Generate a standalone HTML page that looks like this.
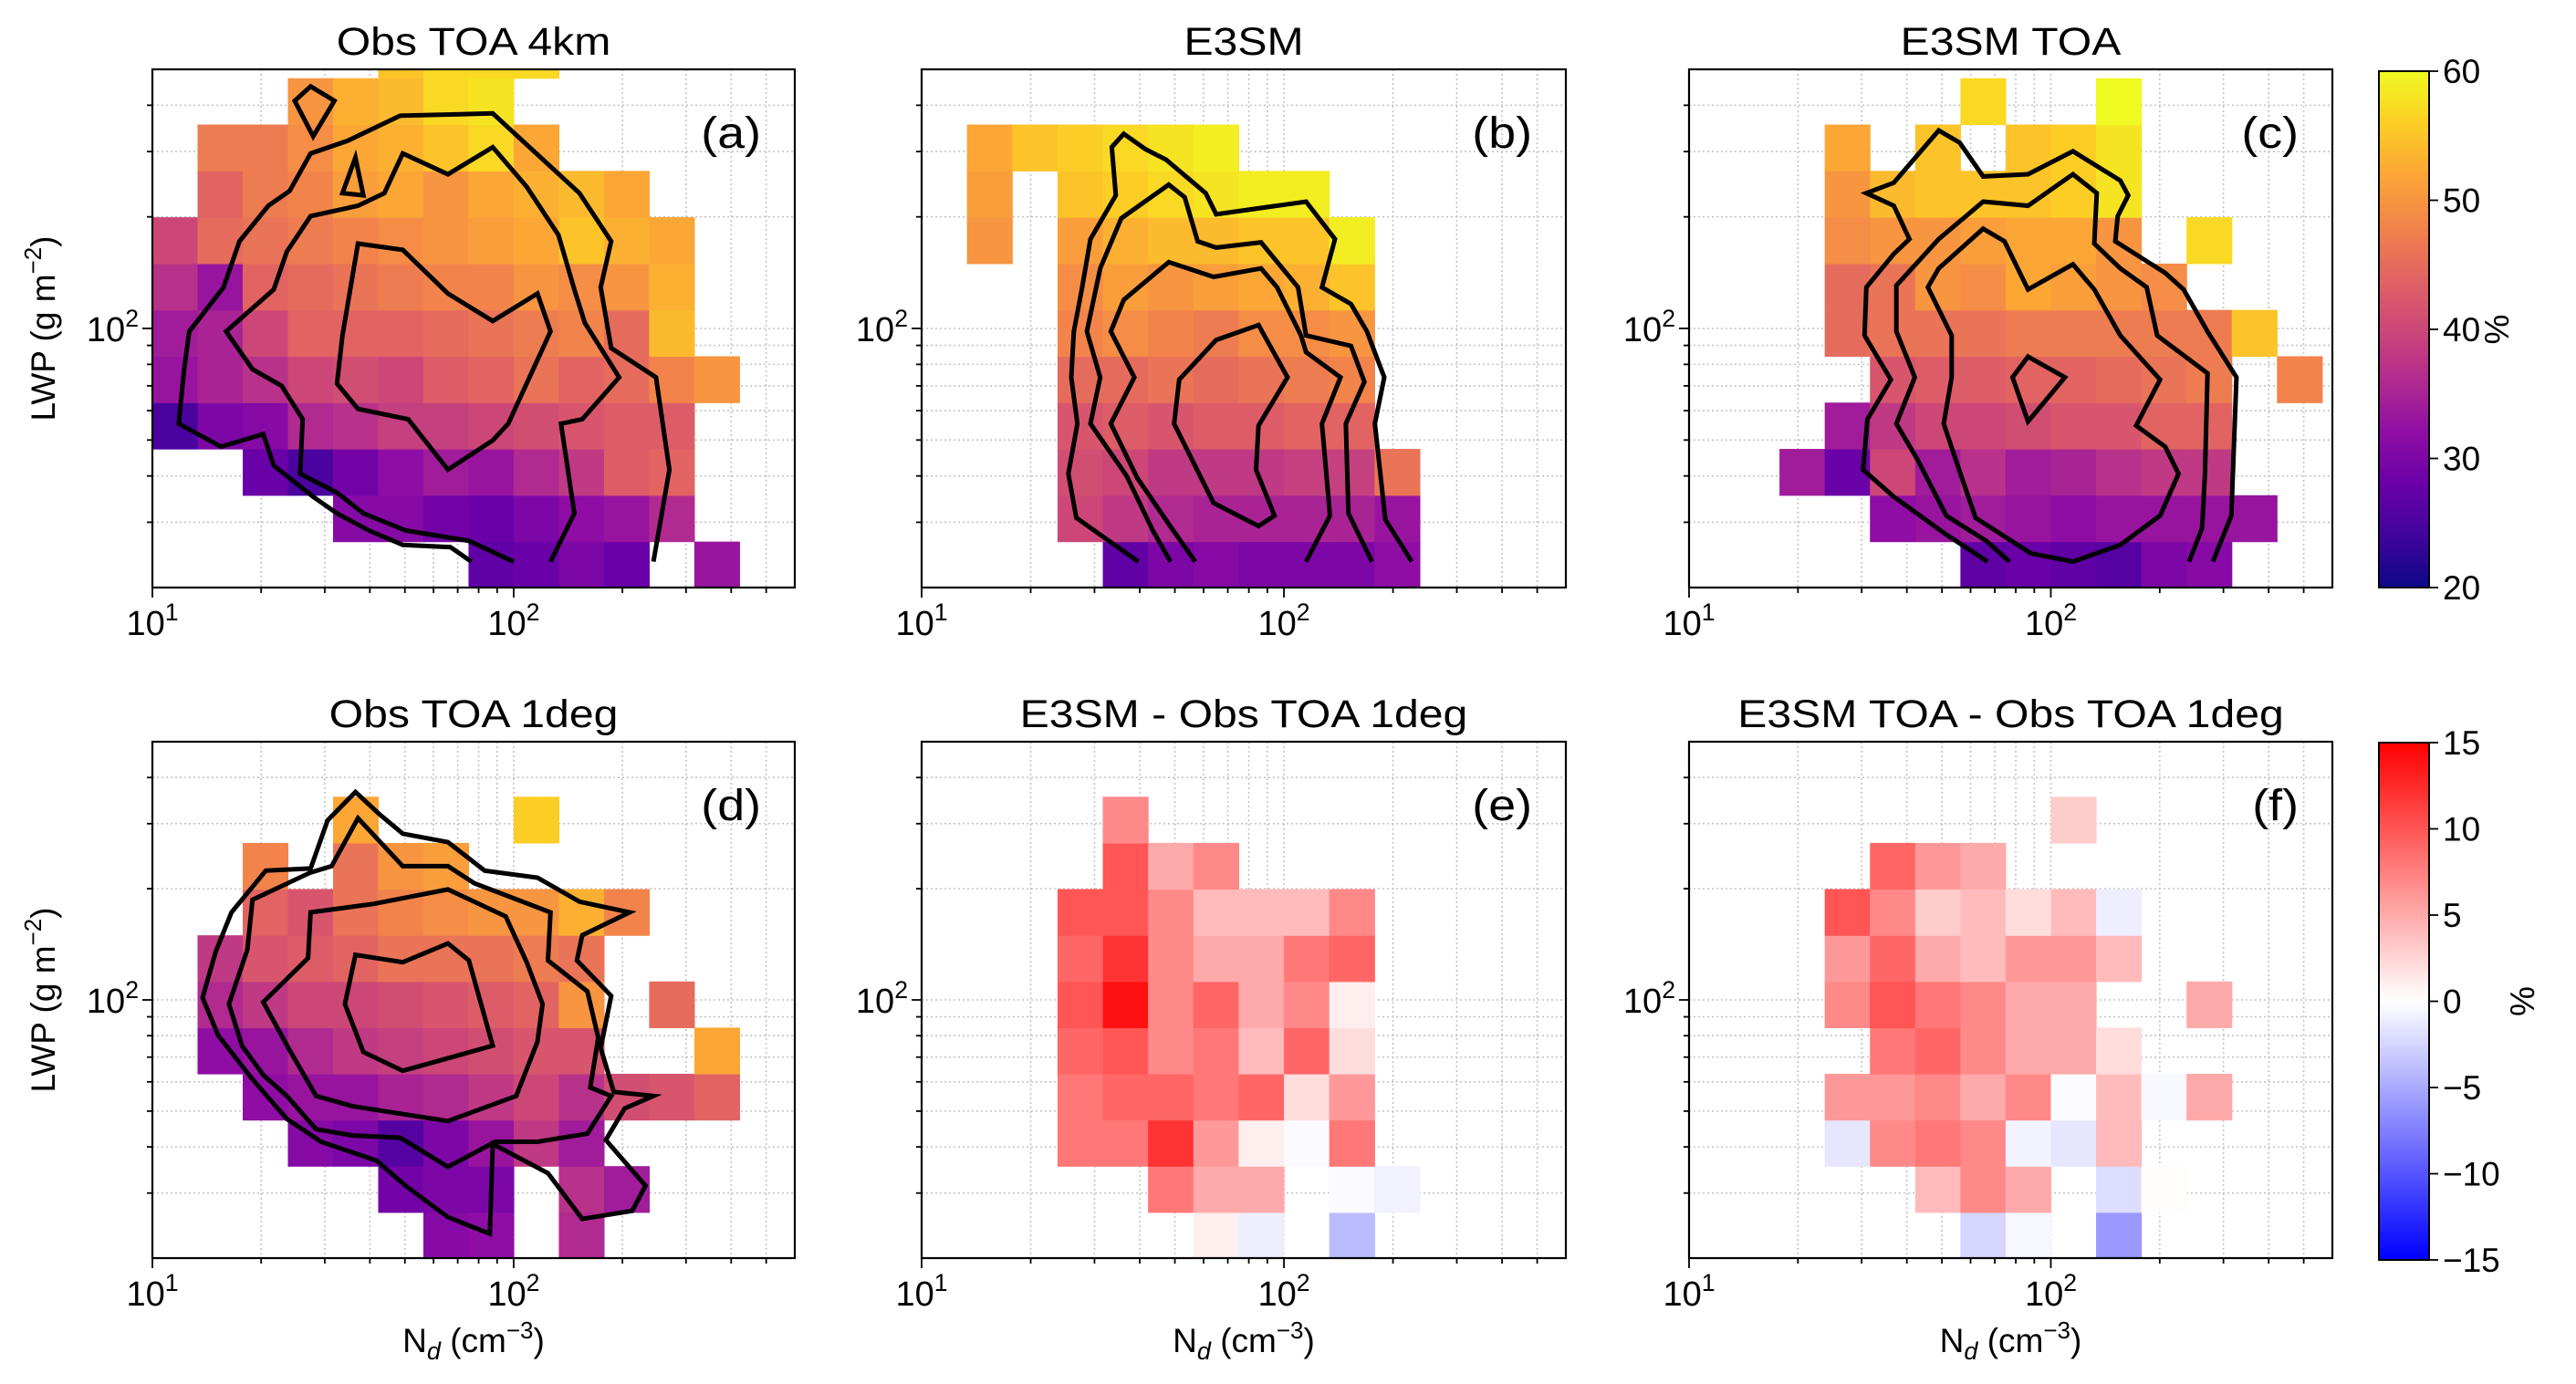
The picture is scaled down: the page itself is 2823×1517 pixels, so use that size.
<!DOCTYPE html>
<html><head><meta charset="utf-8"><style>
html,body{margin:0;padding:0;background:#fff;}
svg{display:block;}
</style></head><body>
<svg id="fig" xmlns="http://www.w3.org/2000/svg" width="2823" height="1517" viewBox="0 0 2823 1517">
<defs>
<linearGradient id="plasmaGrad" x1="0" y1="1" x2="0" y2="0">
<stop offset="0" stop-color="#0d0887"/><stop offset="0.1" stop-color="#41049d"/><stop offset="0.2" stop-color="#6a00a8"/><stop offset="0.3" stop-color="#8f0da4"/><stop offset="0.4" stop-color="#b12a90"/><stop offset="0.5" stop-color="#cc4778"/><stop offset="0.6" stop-color="#e16462"/><stop offset="0.7" stop-color="#f2844b"/><stop offset="0.8" stop-color="#fca636"/><stop offset="0.9" stop-color="#fcce25"/><stop offset="1" stop-color="#f0f921"/>
</linearGradient>
<linearGradient id="bwrGrad" x1="0" y1="1" x2="0" y2="0">
<stop offset="0" stop-color="#0000ff"/><stop offset="0.5" stop-color="#ffffff"/><stop offset="1" stop-color="#ff0000"/>
</linearGradient>
</defs>
</svg>
<script>
const N = null;
// bin edges (log10 units)
const ndEdgeLog0 = 1, ndBinLog = 0.125, lwpEdgeLog0 = 1.3, lwpBinLog = 0.125;
const ndMin = 10, ndMax = 600, lwpMin = 20, lwpMax = 500;
const xMinorTicks = [20,30,40,50,60,70,80,90,200,300,400,500];
const xMajorTicks = [10,100];
const xMajorExp = ['1','2'];
const yMinorTicks = [30,40,50,60,70,80,90,200,300,400];
const yMajorTicks = [100];
const yMajorExp = ['2'];
const cbTopTicks = [20,30,40,50,60];
const cbTopLabels = ['20','30','40','50','60'];
const cbBotTicks = [-15,-10,-5,0,5,10,15];
const cbBotLabels = ['\u221215','\u221210','\u22125','0','5','10','15'];

// rows bottom->top: [startColumn, values]
const cellsObs4km = [
 [7,[27,28,30,28,N,33]],
 [4,[31,31,29,28,30,32,33,36]],
 [2,[28,25,29,32,34,33,36,38,43,44]],
 [0,[25,30,31,36,37,39,39,40,41,42,43,43]],
 [0,[33,35,37,40,41,40,43,44,46,44,45,48,50]],
 [0,[34,35,40,44,44,44,45,46,47,48,45,54]],
 [0,[37,33,44,45,46,47,48,48,50,49,50,53]],
 [0,[40,45,46,47,48,49,50,51,52,55,53,52]],
 [1,[44,47,48,51,52,50,52,53,54,52]],
 [1,[47,47,49,52,53,55,57,52]],
 [3,[50,53,54,57,58]],
 [5,[55,57,57,57]]
];
const cellsE3sm = [
 [4,[27,30,31,30,30,30,32]],
 [3,[40,38,36,35,35,35,35,33]],
 [3,[41,40,38,38,38,39,39,46]],
 [3,[42,43,42,43,43,44,44]],
 [3,[45,45,46,45,46,47,48]],
 [3,[48,49,48,47,49,49,50]],
 [3,[49,51,50,51,52,53,55]],
 [1,[50,N,51,53,54,54,55,55,59]],
 [1,[51,N,55,56,57,58,59,59]],
 [1,[52,55,56,57,58,59]]
];
const cellsE3smToa = [
 [6,[27,28,27,26,30,31]],
 [4,[32,33,34,33,32,33,33,33,33]],
 [2,[34,28,40,34,37,34,35,37,38,38]],
 [3,[34,38,40,40,41,42,42,44,44]],
 [4,[42,43,43,44,44,45,46,47,N,48]],
 [3,[45,46,46,46,47,47,47,47,47,55]],
 [3,[45,46,50,49,52,51,50,49]],
 [3,[49,50,50,51,52,52,50,N,57]],
 [3,[50,54,55,55,55,56,58]],
 [3,[52,N,55,N,55,56,58]],
 [6,[57,N,N,60]]
];
const cellsObs1deg = [
 [6,[31,32,N,36]],
 [5,[29,30,30,N,37,34]],
 [3,[31,30,26,30,33,38,34]],
 [2,[32,33,33,35,36,38,40,37,41,42,44]],
 [1,[32,33,36,38,39,40,41,42,42,N,N,52]],
 [1,[36,38,40,40,41,42,43,44,50,N,45]],
 [1,[38,42,43,44,46,46,46,47,46]],
 [2,[44,42,46,48,49,50,50,53,48]],
 [2,[48,N,46,50,51]],
 [4,[52,N,N,N,56]]
];
const cellsDiffE3sm = [
 [6,[1,-1,N,-4]],
 [5,[8,5,5,N,-0.3,-0.8]],
 [3,[8,8,12,6,1,-0.3,8]],
 [3,[8,9,9,8,9,2,6]],
 [3,[9,10,7,8,4,9,2]],
 [3,[10,14,7,9,5,7,1]],
 [3,[9,12,7,5,5,8,9]],
 [3,[10,10,7,4,4,4,7]],
 [4,[10,5,7]],
 [4,[7]]
];
const cellsDiffE3smToa = [
 [6,[-2.5,-0.5,N,-6]],
 [5,[4,7,5,N,-2,0.2]],
 [3,[-1.5,7,8,7,-0.7,-1.5,4]],
 [3,[6,6,7,5,7,-0.2,4,-0.5,5]],
 [4,[8,9,7,5,5,2]],
 [3,[7,10,8,7,5,5,N,N,5]],
 [3,[6,9,5,4,6,6,4]],
 [3,[10,7,3,4,2,4,-1]],
 [4,[9,6,5]],
 [8,[3]]
];

// contour vertices as [log10 Nd, log10 LWP]
const contoursObs4km = [
 {closed:false, pts:[[1.883,1.371],[1.825,1.410],[1.693,1.416],[1.599,1.455],[1.511,1.501],[1.445,1.546],[1.336,1.630],[1.307,1.715],[1.190,1.681],[1.073,1.743],[1.088,1.890],[1.102,1.992],[1.197,2.111],[1.241,2.235],[1.321,2.331],[1.380,2.371],[1.438,2.472],[1.540,2.506],[1.686,2.574],[1.942,2.580],[2.182,2.365],[2.270,2.235],[2.241,2.111],[2.270,1.947],[2.394,1.868],[2.431,1.619],[2.387,1.371]]},
 {closed:false, pts:[[2.0,1.371],[1.876,1.427],[1.701,1.455],[1.584,1.501],[1.511,1.557],[1.409,1.608],[1.416,1.755],[1.358,1.845],[1.277,1.890],[1.204,1.992],[1.336,2.105],[1.372,2.207],[1.438,2.303],[1.569,2.331],[1.642,2.365],[1.693,2.472],[1.818,2.416],[1.942,2.489],[2.036,2.382],[2.124,2.252],[2.168,2.105],[2.197,2.015],[2.292,1.868],[2.190,1.755],[2.131,1.743],[2.168,1.501],[2.102,1.371]]},
 {closed:true, pts:[[1.569,2.229],[1.693,2.212],[1.818,2.094],[1.942,2.020],[2.066,2.094],[2.102,1.992],[1.985,1.743],[1.942,1.698],[1.818,1.619],[1.708,1.755],[1.569,1.783],[1.511,1.851],[1.526,1.981]]},
 {closed:true, pts:[[1.394,2.614],[1.438,2.653],[1.504,2.614],[1.445,2.518]]},
 {closed:true, pts:[[1.526,2.365],[1.562,2.461],[1.584,2.359]]}
];
const contoursE3sm = [
 {closed:false, pts:[[1.598,1.371],[1.427,1.489],[1.405,1.608],[1.430,1.743],[1.413,1.868],[1.420,1.992],[1.442,2.105],[1.466,2.241],[1.536,2.359],[1.525,2.489],[1.558,2.525],[1.617,2.484],[1.675,2.455],[1.784,2.365],[1.813,2.308],[2.061,2.342],[2.141,2.241],[2.105,2.111],[2.185,2.066],[2.229,1.992],[2.277,1.868],[2.251,1.743],[2.280,1.484],[2.353,1.371]]},
 {closed:false, pts:[[1.687,1.371],[1.638,1.455],[1.566,1.602],[1.466,1.743],[1.493,1.868],[1.456,1.992],[1.493,2.162],[1.551,2.297],[1.682,2.388],[1.726,2.354],[1.762,2.235],[1.813,2.218],[1.937,2.232],[2.039,2.111],[2.061,1.981],[2.185,1.953],[2.222,1.856],[2.171,1.743],[2.178,1.501],[2.243,1.371]]},
 {closed:false, pts:[[1.755,1.371],[1.690,1.461],[1.595,1.597],[1.522,1.743],[1.587,1.868],[1.522,1.992],[1.558,2.077],[1.682,2.179],[1.806,2.139],[1.937,2.162],[1.981,2.111],[2.047,1.981],[2.061,1.936],[2.156,1.868],[2.105,1.743],[2.127,1.495],[2.061,1.371]]},
 {closed:true, pts:[[1.813,1.969],[1.930,2.009],[2.010,1.868],[1.930,1.738],[1.923,1.619],[1.974,1.495],[1.930,1.467],[1.806,1.529],[1.697,1.743],[1.711,1.862]]}
];
const contoursE3smToa = [
 {closed:false, pts:[[1.825,1.371],[1.711,1.444],[1.566,1.546],[1.481,1.619],[1.493,1.755],[1.558,1.862],[1.485,1.981],[1.490,2.111],[1.566,2.201],[1.609,2.241],[1.566,2.331],[1.490,2.365],[1.566,2.393],[1.690,2.534],[1.748,2.501],[1.813,2.410],[1.937,2.416],[2.061,2.478],[2.192,2.399],[2.214,2.359],[2.185,2.303],[2.178,2.235],[2.251,2.190],[2.316,2.150],[2.367,2.105],[2.433,1.992],[2.513,1.868],[2.499,1.495],[2.448,1.371]]},
 {closed:false, pts:[[1.886,1.371],[1.821,1.427],[1.711,1.495],[1.631,1.647],[1.573,1.743],[1.624,1.868],[1.573,1.992],[1.573,2.116],[1.690,2.241],[1.813,2.342],[1.937,2.331],[2.061,2.416],[2.127,2.365],[2.120,2.229],[2.192,2.162],[2.265,2.111],[2.294,1.981],[2.433,1.879],[2.426,1.608],[2.418,1.461],[2.382,1.371]]},
 {closed:true, pts:[[2.061,1.371],[1.945,1.393],[1.792,1.489],[1.748,1.614],[1.704,1.743],[1.726,1.868],[1.726,1.981],[1.660,2.111],[1.690,2.162],[1.813,2.269],[1.872,2.235],[1.937,2.105],[2.061,2.173],[2.120,2.105],[2.192,1.981],[2.302,1.862],[2.236,1.738],[2.316,1.681],[2.353,1.608],[2.302,1.495],[2.192,1.416]]},
 {closed:true, pts:[[1.937,1.924],[2.039,1.868],[1.937,1.749],[1.894,1.868]]}
];
const contoursObs1deg = [
 {closed:true, pts:[[1.562,2.563],[1.628,2.503],[1.693,2.450],[1.818,2.427],[1.920,2.350],[2.066,2.331],[2.182,2.266],[2.321,2.237],[2.190,2.175],[2.175,2.107],[2.270,2.011],[2.241,1.870],[2.277,1.751],[2.387,1.740],[2.307,1.706],[2.255,1.621],[2.365,1.497],[2.328,1.429],[2.190,1.407],[2.095,1.531],[1.942,1.610],[1.934,1.367],[1.818,1.412],[1.701,1.497],[1.620,1.565],[1.467,1.616],[1.372,1.678],[1.277,1.785],[1.182,1.904],[1.139,2.006],[1.175,2.130],[1.219,2.237],[1.314,2.350],[1.438,2.356],[1.485,2.486]]},
 {closed:true, pts:[[1.569,2.492],[1.693,2.362],[1.818,2.362],[1.891,2.316],[2.102,2.237],[2.095,2.107],[2.204,2.023],[2.234,1.898],[2.212,1.763],[2.270,1.740],[2.204,1.638],[2.066,1.616],[1.949,1.616],[1.818,1.548],[1.686,1.627],[1.555,1.633],[1.453,1.650],[1.372,1.740],[1.307,1.797],[1.248,1.876],[1.212,1.989],[1.263,2.136],[1.277,2.271],[1.438,2.345],[1.496,2.362]]},
 {closed:true, pts:[[1.438,2.237],[1.613,2.260],[1.818,2.299],[1.978,2.226],[2.036,2.102],[2.080,1.989],[2.066,1.887],[2.007,1.740],[1.818,1.672],[1.555,1.712],[1.453,1.740],[1.380,1.864],[1.307,1.994],[1.431,2.113]]},
 {closed:true, pts:[[1.562,2.122],[1.693,2.102],[1.818,2.153],[1.876,2.107],[1.942,1.876],[1.693,1.808],[1.584,1.859],[1.533,1.989]]}
];

const svg = document.getElementById('fig');
const NS = 'http://www.w3.org/2000/svg';
function mk(tag, attrs, parent) {
  const e = document.createElementNS(NS, tag);
  for (const k in attrs) e.setAttribute(k, attrs[k]);
  (parent || svg).appendChild(e);
  return e;
}
const L = Math.log10;
function X(p, nd) { return p.x + (L(nd) - L(ndMin)) / (L(ndMax) - L(ndMin)) * p.w; }
function Y(p, lwp) { return p.y + p.h - (L(lwp) - L(lwpMin)) / (L(lwpMax) - L(lwpMin)) * p.h; }

const plasmaStops = [[13,8,135],[65,4,157],[106,0,168],[143,13,164],[177,42,144],[204,71,120],[225,100,98],[242,132,75],[252,166,54],[252,206,37],[240,249,33]];
function plasma(v) {
  let t = Math.max(0, Math.min(1, (v - 20) / 40)) * 10;
  const i = Math.min(9, Math.floor(t)), f = t - i;
  const a = plasmaStops[i], b = plasmaStops[i + 1];
  return 'rgb(' + [0,1,2].map(k => Math.round(a[k] + (b[k] - a[k]) * f)).join(',') + ')';
}
function bwr(v) {
  const t = Math.max(0, Math.min(1, (v + 15) / 30));
  if (t < 0.5) { const g = Math.round(255 * t * 2); return 'rgb(' + g + ',' + g + ',255)'; }
  const g = Math.round(255 * (1 - (t - 0.5) * 2)); return 'rgb(255,' + g + ',' + g + ')';
}

const FONT = '"Liberation Sans", "DejaVu Sans", sans-serif';
function txt(x, y, str, size, anchor, parent, sx) {
  const t = mk('text', {transform: 'translate(' + x + ',' + y + ') scale(' + (sx || 1) + ',1)', 'font-family': FONT, 'font-size': size, 'text-anchor': anchor || 'middle', fill: '#000'}, parent);
  t.textContent = str;
  return t;
}
function powLabel(x, y, base, sup, size, anchor, parent) {
  const t = mk('text', {x: x, y: y, 'font-family': FONT, 'font-size': size, 'text-anchor': anchor, fill: '#000'}, parent);
  const a = mk('tspan', {}, t); a.textContent = base;
  const b = mk('tspan', {dy: -size * 0.42, 'font-size': size * 0.7}, t); b.textContent = sup;
  return t;
}

const panels = [
  {id:'a', title:'Obs TOA 4km', x:167, y:76, w:704, h:568, cells:cellsObs4km, cmap:plasma, contours:contoursObs4km, ylab:true, xlab:false},
  {id:'b', title:'E3SM', x:1010, y:76, w:706, h:568, cells:cellsE3sm, cmap:plasma, contours:contoursE3sm, ylab:false, xlab:false},
  {id:'c', title:'E3SM TOA', x:1851, y:76, w:705, h:568, cells:cellsE3smToa, cmap:plasma, contours:contoursE3smToa, ylab:false, xlab:false},
  {id:'d', title:'Obs TOA 1deg', x:167, y:813, w:704, h:566, cells:cellsObs1deg, cmap:plasma, contours:contoursObs1deg, ylab:true, xlab:true},
  {id:'e', title:'E3SM - Obs TOA 1deg', x:1010, y:813, w:706, h:566, cells:cellsDiffE3sm, cmap:bwr, contours:[], ylab:false, xlab:true},
  {id:'f', title:'E3SM TOA - Obs TOA 1deg', x:1851, y:813, w:705, h:566, cells:cellsDiffE3smToa, cmap:bwr, contours:[], ylab:false, xlab:true}
];

panels.forEach(p => {
  const g = mk('g', {});
  
  
  const cp = mk('clipPath', {id: 'clip-' + p.id}, g);
  mk('rect', {x: p.x, y: p.y, width: p.w, height: p.h}, cp);

  const grid = mk('g', {stroke: '#c4c4c4', 'stroke-width': 1.6, 'stroke-dasharray': '2,3'}, g);
  
  
  xMinorTicks.concat(xMajorTicks).forEach(v => { const xx = X(p, v); mk('line', {x1: xx, x2: xx, y1: p.y, y2: p.y + p.h}, grid); });
  yMinorTicks.concat(yMajorTicks).forEach(v => { const yy = Y(p, v); mk('line', {x1: p.x, x2: p.x + p.w, y1: yy, y2: yy}, grid); });

  const cg = mk('g', {'clip-path': 'url(#clip-' + p.id + ')'}, g);
  
  
  p.cells.forEach((row, r) => {
    const start = row[0];
    row[1].forEach((v, j) => {
      if (v === null) return;
      const col = start + j;
      const x0 = X(p, Math.pow(10, ndEdgeLog0 + col * ndBinLog));
      const x1 = X(p, Math.pow(10, ndEdgeLog0 + (col + 1) * ndBinLog));
      const y0 = Y(p, Math.pow(10, lwpEdgeLog0 + (r + 1) * lwpBinLog));
      const y1 = Y(p, Math.pow(10, lwpEdgeLog0 + r * lwpBinLog));
      const c = mk('rect', {x: x0, y: y0, width: x1 - x0 + 0.6, height: y1 - y0 + 0.6, fill: p.cmap(v)}, cg);
      
      
    });
  });

  const kg = mk('g', {'clip-path': 'url(#clip-' + p.id + ')', fill: 'none', stroke: '#000', 'stroke-width': 5, 'stroke-linejoin': 'miter'}, g);
  
  
  p.contours.forEach((ct, k) => {
    const d = ct.pts.map((q, i) => (i ? 'L' : 'M') + X(p, Math.pow(10, q[0])).toFixed(1) + ',' + Y(p, Math.pow(10, q[1])).toFixed(1)).join(' ') + (ct.closed ? ' Z' : '');
    const path = mk('path', {d: d}, kg);
    
    
  });

  const fr = mk('rect', {x: p.x, y: p.y, width: p.w, height: p.h, fill: 'none', stroke: '#000', 'stroke-width': 2.2}, g);
  
  

  const tk = mk('g', {stroke: '#000', 'stroke-width': 1.8}, g);
  
  
  xMinorTicks.forEach(v => { const xx = X(p, v); mk('line', {x1: xx, x2: xx, y1: p.y + p.h, y2: p.y + p.h + 6}, tk); });
  xMajorTicks.forEach(v => { const xx = X(p, v); mk('line', {x1: xx, x2: xx, y1: p.y + p.h, y2: p.y + p.h + 11}, tk); });
  yMinorTicks.forEach(v => { const yy = Y(p, v); mk('line', {x1: p.x - 6, x2: p.x, y1: yy, y2: yy}, tk); });
  yMajorTicks.forEach(v => { const yy = Y(p, v); mk('line', {x1: p.x - 11, x2: p.x, y1: yy, y2: yy}, tk); });

  xMajorTicks.forEach((v, i) => {
    const t = powLabel(X(p, v), p.y + p.h + 52, '10', xMajorExp[i], 38, 'middle', g);
    
    
  });
  yMajorTicks.forEach((v, i) => {
    const t = powLabel(p.x - 15, Y(p, v) + 14, '10', yMajorExp[i], 38, 'end', g);
    
    
  });

  const ti = txt(p.x + p.w / 2, p.y - 16, p.title, 43, 'middle', g, 1.12);
  
  

  const pl = txt(p.x + p.w - 37, p.y + 86, '(' + p.id + ')', 48, 'end', g, 1.12);
  
  

  if (p.ylab) {
    const yl = mk('text', {transform: 'translate(60,' + (p.y + p.h / 2) + ') rotate(-90)', 'font-family': FONT, 'font-size': 37, 'text-anchor': 'middle', fill: '#000'}, g);
    const s1 = mk('tspan', {}, yl); s1.textContent = 'LWP (g m';
    const s2 = mk('tspan', {dy: -15, 'font-size': 26}, yl); s2.textContent = '\u22122';
    const s3 = mk('tspan', {dy: 15}, yl); s3.textContent = ')';
    
    
  }
  if (p.xlab) {
    const xl = mk('text', {x: p.x + p.w / 2, y: 1482, 'font-family': FONT, 'font-size': 37, 'text-anchor': 'middle', fill: '#000'}, g);
    const s1 = mk('tspan', {}, xl); s1.textContent = 'N';
    const s2 = mk('tspan', {dy: 8, 'font-size': 27, 'font-style': 'italic'}, xl); s2.textContent = 'd';
    const s3 = mk('tspan', {dy: -8}, xl); s3.textContent = ' (cm';
    const s4 = mk('tspan', {dy: -15, 'font-size': 26}, xl); s4.textContent = '\u22123';
    const s5 = mk('tspan', {dy: 15}, xl); s5.textContent = ')';
    
    
  }
});

const cbars = [
  {id:'top', x:2607, y:78, w:55, h:566, grad:'plasmaGrad', ticks:cbTopTicks, labels:cbTopLabels, vmin:20, vmax:60, pctX:2749},
  {id:'bottom', x:2607, y:814, w:55, h:567, grad:'bwrGrad', ticks:cbBotTicks, labels:cbBotLabels, vmin:-15, vmax:15, pctX:2777}
];
cbars.forEach(cb => {
  const g = mk('g', {});
  
  
  const r = mk('rect', {x: cb.x, y: cb.y, width: cb.w, height: cb.h, fill: 'url(#' + cb.grad + ')', stroke: '#000', 'stroke-width': 2}, g);
  
  
  cb.ticks.forEach((v, i) => {
    const yy = cb.y + cb.h - (v - cb.vmin) / (cb.vmax - cb.vmin) * cb.h;
    const ln = mk('line', {x1: cb.x + cb.w, x2: cb.x + cb.w + 10, y1: yy, y2: yy, stroke: '#000', 'stroke-width': 1.8}, g);
    
    
    const t = txt(cb.x + cb.w + 15, yy + 13, cb.labels[i], 37, 'start', g, 1);
    
    
  });
  const pc = mk('text', {transform: 'translate(' + cb.pctX + ',' + (cb.y + cb.h / 2) + ') rotate(-90)', 'font-family': FONT, 'font-size': 37, 'text-anchor': 'middle', fill: '#000'}, g);
  pc.textContent = '%';
  
  
});
</script>
</body></html>
